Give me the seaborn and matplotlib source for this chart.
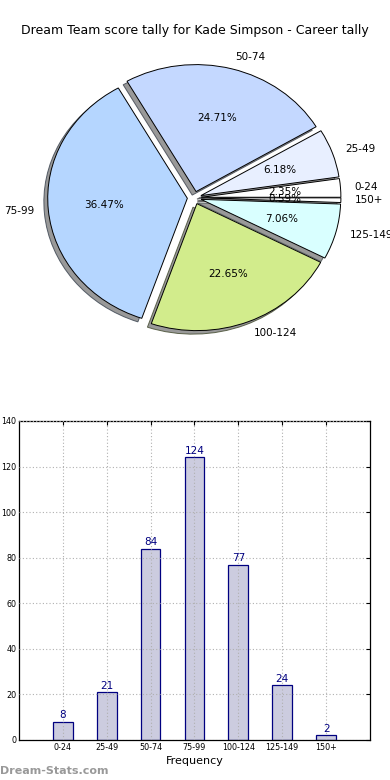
import matplotlib
matplotlib.use('Agg')
import matplotlib.pyplot as plt
import seaborn as sns
import pandas as pd

# score bands and how often each came up
bands = ['0-24', '25-49', '50-74', '75-99', '100-124', '125-149', '150+']
counts = [8, 21, 84, 124, 77, 24, 2]
pie_colors = ['#ffffff', '#e8efff', '#c4d8ff', '#b5d6ff', '#d2ec8c', '#d9ffff', '#ffffff']

df = pd.DataFrame({'band': bands, 'count': counts})

sns.set_style('white')
plt.rcParams['font.family'] = ['DejaVu Sans']
plt.rcParams['text.color'] = 'black'
plt.rcParams['axes.labelcolor'] = 'black'
plt.rcParams['xtick.color'] = 'black'
plt.rcParams['ytick.color'] = 'black'

fig = plt.figure(figsize=(3.9, 7.8), dpi=100)

fig.text(0.5, 0.961, 'Dream Team score tally for Kade Simpson - Career tally',
         ha='center', va='center', fontsize=9)

# pie (old style, not forced round)
ax1 = fig.add_axes([0.0507, 0.543, 0.895, 0.407])
wedges, texts, autotexts = ax1.pie(
    df['count'], labels=df['band'], colors=pie_colors, autopct='%1.2f%%',
    explode=[0.05] * len(bands), shadow=True, startangle=0,
    wedgeprops={'edgecolor': 'black', 'linewidth': 0.7},
    textprops={'fontsize': 7.5, 'color': 'black'})
ax1.set_aspect('auto')
ax1.set_xlim(-1.25, 1.25)
ax1.set_ylim(-1.25, 1.25)
# lighter shadows like the original
for p in ax1.patches:
    if isinstance(p, matplotlib.patches.Shadow):
        p.set_facecolor('#808080')
        p.set_alpha(0.8)

# bars
ax2 = fig.add_axes([0.0487, 0.0513, 0.9, 0.409])
sns.barplot(data=df, x='band', y='count', ax=ax2, width=0.45,
            color='#ccccdf', edgecolor='#000080', linewidth=0.9, saturation=1)
ax2.bar_label(ax2.containers[0], color='#000080', fontsize=7.5, padding=1)
ax2.set_xlim(-1, 7)
ax2.set_ylim(0, 140)
ax2.set_xlabel('Frequency', fontsize=8, labelpad=3)
ax2.set_ylabel('')
ax2.set_axisbelow(False)
ax2.grid(True, linestyle=(0, (1, 2)), color='#b0b0b0', linewidth=0.8)
ax2.tick_params(direction='in', top=True, right=True, labelsize=5.8, length=3, pad=2)
for s in ax2.spines.values():
    s.set_visible(True)
    s.set_color('black')
    s.set_linewidth(0.9)

fig.text(0.0, 0.012, 'Dream-Stats.com', color='#999999', fontsize=8,
         fontweight='bold', ha='left', va='center')

plt.savefig('out.png', dpi=100)
